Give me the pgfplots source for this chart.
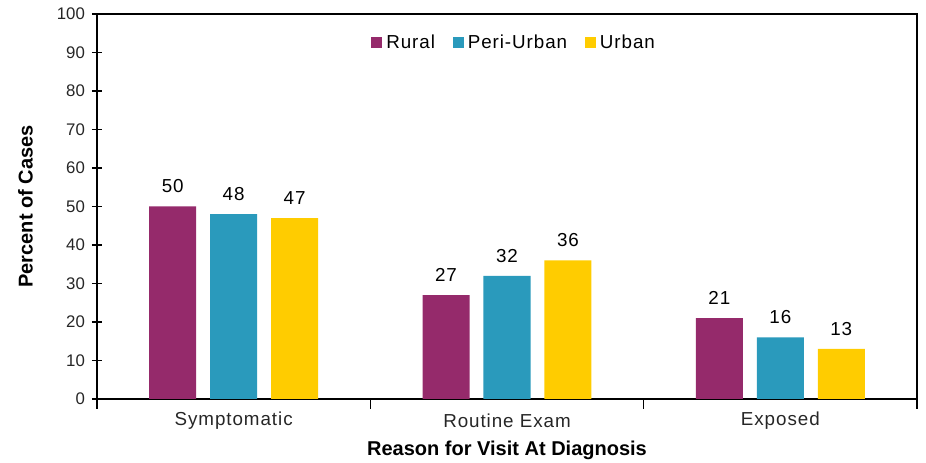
\documentclass[border=0pt]{standalone}
\usepackage{pgfplots}
\pgfplotsset{compat=1.18}
\usepackage{fontspec}
\setmainfont{Liberation Sans}
\newfontfamily\lbl{Liberation Sans}[LetterSpace=5]
\usetikzlibrary{calc}
\definecolor{rural}{HTML}{952A6B}
\definecolor{peri}{HTML}{2A9ABC}
\definecolor{urban}{HTML}{FFCC00}
\begin{document}
\begin{tikzpicture}
\begin{axis}[
  scale only axis,
  width=410pt, height=192.5pt,
  ymin=0, ymax=100, ytick={0,10,...,100},
  xmin=-0.5, xmax=2.5,
  xtick={-0.5,0.5,1.5,2.5}, xticklabels={},
  xtick pos=bottom, ytick pos=left,
  extra x ticks={0,1,2},
  extra x tick labels={Symptomatic,Routine Exam,Exposed},
  extra x tick style={major tick length=0pt, grid=none,
     xticklabel style={anchor=center, yshift=-11pt, font=\lbl\fontsize{9.4}{11}\selectfont}},
  tick align=center, major tick length=5pt,
  tick style={black, line width=0.8pt},
  axis line style={black, line width=1pt},
  /pgf/number format/assume math mode=true,
  ticklabel style={font=\fontsize{8.4}{10}\selectfont, text=black!85},
  ylabel={\textbf{Percent of Cases}},
  xlabel={\textbf{Reason for Visit At Diagnosis}},
  label style={font=\lbl\fontsize{9.4}{11}\selectfont},
  every axis y label/.style={at={(axis description cs:0,0.5)}, xshift=-35.75pt, rotate=90, anchor=center},
  every axis x label/.style={at={(axis description cs:0.5,0)}, yshift=-25.5pt, anchor=center},
  ybar, bar width=0.172,
  nodes near coords,
  nodes near coords style={font=\lbl\fontsize{9.4}{11}\selectfont, text=black, anchor=center, yshift=10pt},
  legend columns=3,
  legend style={draw=none, fill=none, at={(0.51,0.925)}, anchor=center,
    font=\lbl\fontsize{9.4}{11}\selectfont, inner sep=0pt,
    /tikz/every even column/.append style={column sep=7pt}},
  legend image code/.code={\fill[#1] (0pt,-2.7pt) rectangle (5.4pt,2.7pt);},
]
\addplot[fill=rural, draw=none, bar shift=-0.223] coordinates {(0,50) (1,27) (2,21)};
\addplot[fill=peri, draw=none, bar shift=0] coordinates {(0,48) (1,32) (2,16)};
\addplot[fill=urban, draw=none, bar shift=0.223] coordinates {(0,47) (1,36) (2,13)};
\legend{Rural,Peri-Urban,Urban}
\end{axis}
\pgfresetboundingbox
\path[use as bounding box] ($(current axis.south west)+(-48.5pt,-32pt)$) rectangle ($(current axis.north east)+(4.5pt,7pt)$);
\end{tikzpicture}
\end{document}
